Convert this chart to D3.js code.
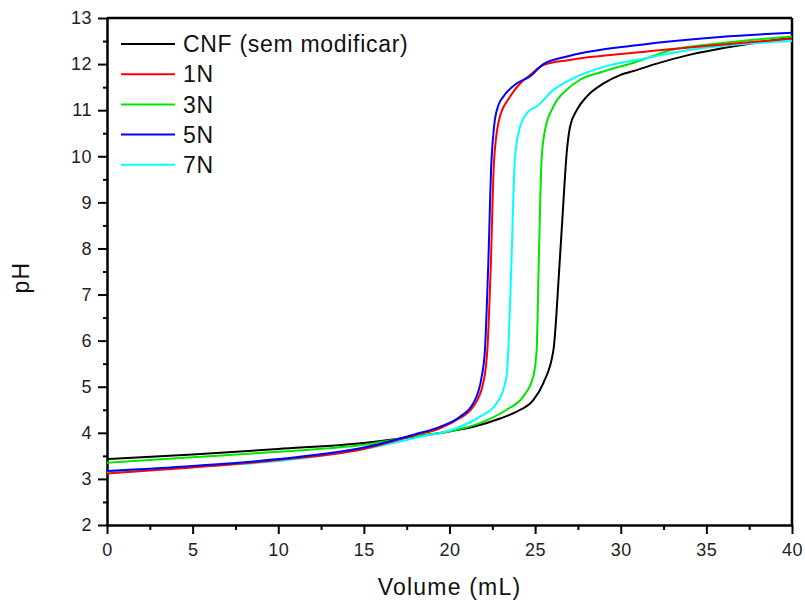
<!DOCTYPE html>
<html>
<head>
<meta charset="utf-8">
<script src="https://cdn.jsdelivr.net/npm/d3@7"></script>
<style>
  body { margin: 0; background: #fff; }
  text { font-family: "Liberation Sans", Arial, sans-serif; }
</style>
</head>
<body>
<div id="my_dataviz"></div>
<script>
// data
const seriesNames = ["CNF (sem modificar)", "1N", "3N", "5N", "7N"];
const seriesColors = ["#000000", "#ff0000", "#00e600", "#0000ff", "#00ffff"];

const cnfX = [0, 5, 10, 15, 18, 19.83, 21.39, 22.95, 23.92, 24.89, 25.48, 26.07, 26.4, 26.65, 26.84, 27.04, 27.43, 28.0, 29.0, 29.96, 30.93, 32, 34, 36, 38, 40];
const cnfY = [3.43, 3.53, 3.65, 3.78, 3.92, 4.02, 4.13, 4.31, 4.46, 4.71, 5.08, 5.8, 7.5, 9.0, 10.06, 10.64, 11.0, 11.29, 11.58, 11.76, 11.87, 12.0, 12.2, 12.35, 12.47, 12.57];

const n1X = [0, 5, 10, 15, 18, 19.44, 20.41, 21.39, 21.97, 22.21, 22.4, 22.6, 22.9, 23.53, 24.12, 24.7, 25.48, 27.04, 30.93, 36.8, 40];
const n1Y = [3.12, 3.25, 3.41, 3.65, 3.95, 4.1, 4.28, 4.57, 5.08, 5.8, 7.5, 9.9, 10.8, 11.29, 11.58, 11.76, 11.98, 12.09, 12.25, 12.45, 12.55];

const n3X = [0, 5, 10, 15, 18, 20, 21.78, 23.33, 24.31, 24.89, 25.09, 25.2, 25.38, 25.58, 26.07, 26.84, 27.62, 28.99, 30.93, 32.9, 35.8, 40];
const n3Y = [3.35, 3.47, 3.59, 3.74, 3.93, 4.03, 4.21, 4.5, 4.79, 5.22, 5.8, 7.5, 9.96, 10.57, 11.08, 11.44, 11.66, 11.84, 12.05, 12.3, 12.45, 12.6];

const n5X = [0, 5, 10, 15, 18, 19.44, 20.61, 21.39, 21.88, 22.07, 22.25, 22.45, 22.62, 22.85, 23.14, 23.92, 24.7, 25.48, 27.04, 30.93, 35.8, 40];
const n5Y = [3.17, 3.28, 3.43, 3.68, 3.97, 4.13, 4.35, 4.64, 5.22, 5.8, 7.5, 9.9, 10.7, 11.1, 11.29, 11.58, 11.73, 12.0, 12.18, 12.41, 12.59, 12.68];

const n7X = [0, 5, 10, 15, 18, 20.41, 21.78, 22.75, 23.33, 23.43, 23.6, 23.82, 24.12, 24.6, 25.09, 26.07, 27.04, 28.99, 30.93, 33.9, 37.7, 40];
const n7Y = [3.15, 3.26, 3.39, 3.65, 3.89, 4.1, 4.35, 4.64, 5.22, 5.8, 7.5, 9.96, 10.64, 10.97, 11.08, 11.44, 11.66, 11.94, 12.09, 12.3, 12.45, 12.5];

const xTicks = [0, 5, 10, 15, 20, 25, 30, 35, 40];
const yTicks = [2, 3, 4, 5, 6, 7, 8, 9, 10, 11, 12, 13];

const allX = [cnfX, n1X, n3X, n5X, n7X];
const allY = [cnfY, n1Y, n3Y, n5Y, n7Y];

// set the dimensions and margins of the graph
const margin = {top: 18, right: 13, bottom: 81, left: 107},
    width = 805 - margin.left - margin.right,
    height = 606 - margin.top - margin.bottom;

const svg = d3.select("#my_dataviz")
  .append("svg")
    .attr("width", width + margin.left + margin.right)
    .attr("height", height + margin.top + margin.bottom)
  .append("g")
    .attr("transform", `translate(${margin.left},${margin.top})`);

const x = d3.scaleLinear().domain([0, 40]).range([0, width]);
const y = d3.scaleLinear().domain([2, 13]).range([height, 0]);

// minor ticks
svg.append("g")
  .attr("transform", `translate(0, ${height})`)
  .call(d3.axisBottom(x).tickValues(d3.range(2.5, 40, 5)).tickSize(5).tickFormat(""))
  .call(g => g.select(".domain").remove())
  .selectAll("line").attr("stroke-width", 2);
svg.append("g")
  .call(d3.axisLeft(y).tickValues(d3.range(2.5, 13, 1)).tickSize(4).tickFormat(""))
  .call(g => g.select(".domain").remove())
  .selectAll("line").attr("stroke-width", 2);

// major ticks
const xAxis = svg.append("g")
  .attr("transform", `translate(0, ${height})`)
  .call(d3.axisBottom(x).tickValues(xTicks).tickSize(9).tickSizeOuter(0).tickPadding(9));
const yAxis = svg.append("g")
  .call(d3.axisLeft(y).tickValues(yTicks).tickSize(9).tickSizeOuter(0).tickPadding(6));

[xAxis, yAxis].forEach(a => {
  a.selectAll("line").attr("stroke-width", 2);
  a.select(".domain").attr("stroke-width", 2.5);
  a.selectAll("text")
    .style("font-size", "18px")
    .style("letter-spacing", "0.5px")
    .style("font-family", '"Liberation Sans", Arial, sans-serif')
    .attr("fill", "#222");
});

// top and right frame
svg.append("line")
  .attr("x1", 0).attr("x2", width).attr("y1", 0).attr("y2", 0)
  .attr("stroke", "black").attr("stroke-width", 2.5);
svg.append("line")
  .attr("x1", width).attr("x2", width).attr("y1", 0).attr("y2", height)
  .attr("stroke", "black").attr("stroke-width", 2.5);

// curves
const line = d3.line()
  .x(d => x(d[0]))
  .y(d => y(d[1]))
  .curve(d3.curveMonotoneX);

// draw order so blue sits on top of red like the original
const order = [0, 2, 4, 1, 3];
order.forEach(i => {
  const pts = allX[i].map((v, j) => [v, allY[i][j]]);
  svg.append("path")
    .datum(pts)
    .attr("fill", "none")
    .attr("stroke", seriesColors[i])
    .attr("stroke-width", 2)
    .attr("d", line);
});

// legend
const legend = svg.append("g").attr("transform", "translate(14, 26)");
seriesNames.forEach((name, i) => {
  const row = legend.append("g").attr("transform", `translate(0, ${i * 30.2})`);
  row.append("line")
    .attr("x1", 0).attr("x2", 54).attr("y1", 0).attr("y2", 0)
    .attr("stroke", seriesColors[i]).attr("stroke-width", 2);
  row.append("text")
    .attr("x", 62).attr("y", 0).attr("dy", "0.36em")
    .style("font-size", "23px")
    .style("letter-spacing", "0.7px")
    .attr("fill", "#111")
    .text(name);
});

// axis labels
svg.append("text")
  .attr("text-anchor", "middle")
  .attr("x", width / 2)
  .attr("y", height + 70)
  .style("font-size", "23px")
  .style("letter-spacing", "1.2px")
  .attr("fill", "#111")
  .text("Volume (mL)");

svg.append("text")
  .attr("text-anchor", "middle")
  .attr("transform", `translate(-78, ${height / 2 + 6}) rotate(-90)`)
  .style("font-size", "23px")
  .style("letter-spacing", "1.2px")
  .attr("fill", "#111")
  .text("pH");
</script>
</body>
</html>
